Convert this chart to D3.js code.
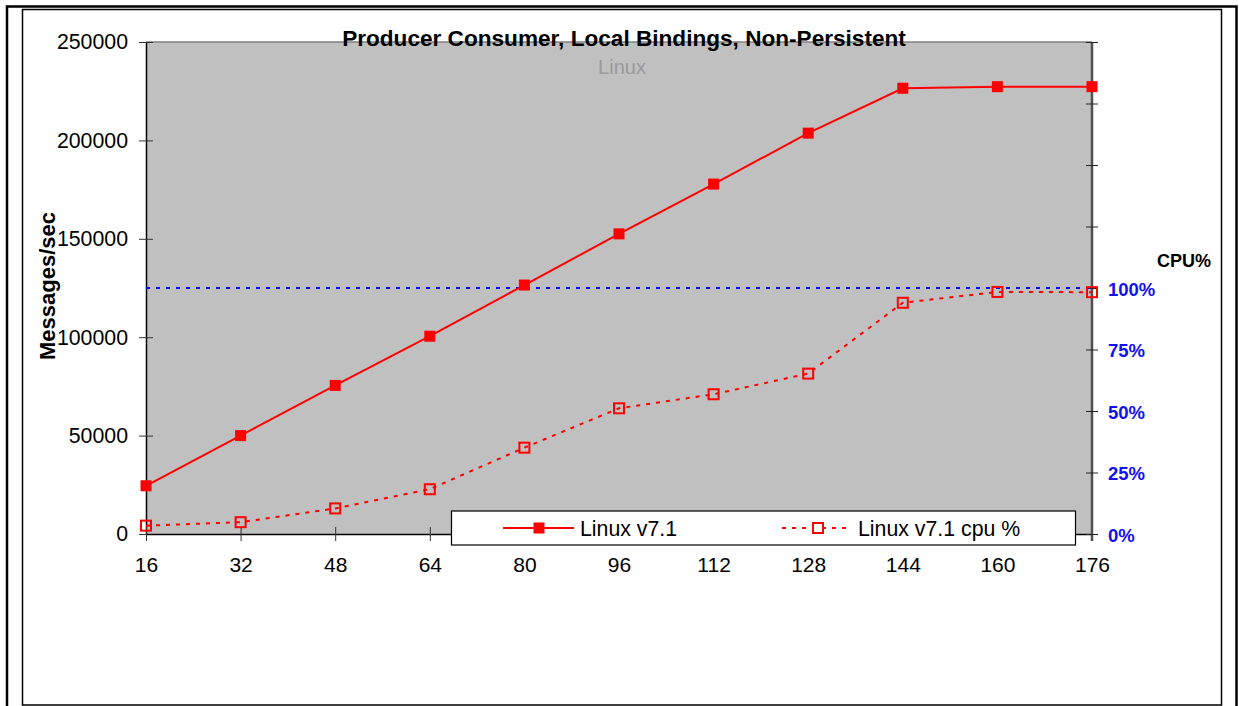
<!DOCTYPE html>
<html>
<head>
<meta charset="utf-8">
<script src="https://cdn.jsdelivr.net/npm/d3@7"></script>
<style>
  html, body { margin: 0; padding: 0; background: #fff; }
  svg { display: block; }
  text { font-family: "Liberation Sans", Arial, Helvetica, sans-serif; }
</style>
</head>
<body>
<svg id="chart" width="1239" height="706"></svg>
<script>
// Thread counts on the x axis
const threads = [16, 32, 48, 64, 80, 96, 112, 128, 144, 160, 176];
// Throughput (messages/sec) for Linux v7.1
const msgRate = [24500, 50000, 75500, 100500, 126500, 152500, 177800, 203700, 226500, 227300, 227300];
// CPU utilisation (%) for Linux v7.1
const cpuPct = [3.4, 4.8, 10.4, 18.2, 35.1, 51.1, 56.8, 65.2, 94.0, 98.4, 98.3];
// Axis tick values
const rateTicks = [0, 50000, 100000, 150000, 200000, 250000];
const cpuTicks = [0, 25, 50, 75, 100, 125, 150, 175, 200];
const cpuLabelMax = 100;

const titleText = "Producer Consumer, Local Bindings, Non-Persistent";
const subtitleText = "Linux";
const yLabelText = "Messages/sec";
const y2LabelText = "CPU%";
const seriesNames = ["Linux v7.1", "Linux v7.1 cpu %"];

const svg = d3.select("#chart");

// Page frames
svg.append("rect").attr("x", 7).attr("y", 6.5).attr("width", 1229.5).attr("height", 730)
  .attr("fill", "none").attr("stroke", "#000").attr("stroke-width", 2.5);
svg.append("rect").attr("x", 22.5).attr("y", 9.5).attr("width", 1199).attr("height", 695.5)
  .attr("fill", "none").attr("stroke", "#000").attr("stroke-width", 1.5);

const plot = { left: 146, right: 1092, top: 42, bottom: 534 };

const x = d3.scaleLinear().domain([16, 176]).range([plot.left, plot.right]);
const y = d3.scaleLinear().domain([0, 250000]).range([plot.bottom, plot.top]);
const y2 = d3.scaleLinear().domain([0, 200]).range([plot.bottom, plot.top]);

// Plot background
svg.append("rect").attr("x", plot.left).attr("y", plot.top)
  .attr("width", plot.right - plot.left).attr("height", plot.bottom - plot.top)
  .attr("fill", "#c0c0c0");
svg.append("line").attr("x1", plot.left).attr("x2", plot.right)
  .attr("y1", plot.top).attr("y2", plot.top)
  .attr("stroke", "#808080").attr("stroke-width", 1.5);

// Left axis
const yAxis = d3.axisLeft(y).tickValues(rateTicks).tickSizeInner(7).tickSizeOuter(0)
  .tickPadding(11).tickFormat(d3.format("d"));
const gy = svg.append("g").attr("transform", `translate(${plot.left},0)`).call(yAxis);
gy.select(".domain").attr("stroke", "#000").attr("stroke-width", 1.5);
gy.selectAll(".tick line").attr("x2", 7).attr("x1", -7).attr("stroke", "#333");
gy.selectAll(".tick text").attr("font-size", 21.3).attr("fill", "#000")
  .attr("font-family", "Liberation Sans, Arial, sans-serif");

// Bottom axis
const xAxis = d3.axisBottom(x).tickValues(threads).tickSizeInner(7).tickSizeOuter(0)
  .tickPadding(16).tickFormat(d3.format("d"));
const gx = svg.append("g").attr("transform", `translate(0,${plot.bottom})`).call(xAxis);
gx.select(".domain").attr("stroke", "#000").attr("stroke-width", 1.5);
gx.selectAll(".tick line").attr("y1", -7).attr("y2", 7).attr("stroke", "#333");
gx.selectAll(".tick text").attr("font-size", 21).attr("fill", "#000")
  .attr("font-family", "Liberation Sans, Arial, sans-serif");

// Right axis (CPU %)
const y2Axis = d3.axisRight(y2).tickValues(cpuTicks).tickSizeInner(6).tickSizeOuter(0)
  .tickPadding(10).tickFormat(d => d <= cpuLabelMax ? d + "%" : "");
const gy2 = svg.append("g").attr("transform", `translate(${plot.right},0)`).call(y2Axis);
gy2.select(".domain").attr("stroke", "#505050").attr("stroke-width", 2.5)
  .attr("d", `M0,${plot.top}V${plot.bottom + 7}`);
gy2.selectAll(".tick line").attr("x1", -6).attr("x2", 6).attr("stroke", "#222");
gy2.selectAll(".tick text").attr("font-size", 18.5).attr("font-weight", "bold")
  .attr("fill", "#1010f0").attr("dy", "0.4em")
  .attr("font-family", "Liberation Sans, Arial, sans-serif");

// 100% reference line
svg.append("line").attr("x1", plot.left).attr("x2", plot.right)
  .attr("y1", y2(100)).attr("y2", y2(100))
  .attr("stroke", "#0000ff").attr("stroke-width", 2).attr("stroke-dasharray", "4,6");

// Throughput series
const rateLine = d3.line().x((d, i) => x(threads[i])).y(d => y(d));
svg.append("path").datum(msgRate).attr("d", rateLine)
  .attr("fill", "none").attr("stroke", "#ff0000").attr("stroke-width", 2);
svg.selectAll(".rate-marker").data(msgRate).join("rect")
  .attr("class", "rate-marker")
  .attr("x", (d, i) => x(threads[i]) - 5.5).attr("y", d => y(d) - 5.5)
  .attr("width", 11).attr("height", 11).attr("fill", "#ff0000");

// CPU series
const cpuLine = d3.line().x((d, i) => x(threads[i])).y(d => y2(d));
svg.append("path").datum(cpuPct).attr("d", cpuLine)
  .attr("fill", "none").attr("stroke", "#ff0000").attr("stroke-width", 2)
  .attr("stroke-dasharray", "4,6");
svg.selectAll(".cpu-marker").data(cpuPct).join("rect")
  .attr("class", "cpu-marker")
  .attr("x", (d, i) => x(threads[i]) - 5).attr("y", d => y2(d) - 5)
  .attr("width", 10).attr("height", 10)
  .attr("fill", "none").attr("stroke", "#ff0000").attr("stroke-width", 2);

// Titles
svg.append("text").attr("x", 624).attr("y", 46).attr("text-anchor", "middle")
  .attr("font-size", 22.6).attr("font-weight", "bold").attr("fill", "#000")
  .text(titleText);
svg.append("text").attr("x", 622).attr("y", 74).attr("text-anchor", "middle")
  .attr("font-size", 20).attr("fill", "#9a9a9a").text(subtitleText);

// Axis titles
svg.append("text").attr("transform", "translate(55,286) rotate(-90)")
  .attr("text-anchor", "middle").attr("font-size", 22).attr("font-weight", "bold")
  .attr("fill", "#000").text(yLabelText);
svg.append("text").attr("x", 1157).attr("y", 267)
  .attr("font-size", 18).attr("font-weight", "bold").attr("fill", "#000").text(y2LabelText);

// Legend
const legend = svg.append("g");
legend.append("rect").attr("x", 451.5).attr("y", 511).attr("width", 624).attr("height", 34)
  .attr("fill", "#fff").attr("stroke", "#000").attr("stroke-width", 1.2);
const ly = 528;
legend.append("line").attr("x1", 503).attr("x2", 574).attr("y1", ly).attr("y2", ly)
  .attr("stroke", "#ff0000").attr("stroke-width", 2);
legend.append("rect").attr("x", 533.5).attr("y", ly - 5.5).attr("width", 11).attr("height", 11)
  .attr("fill", "#ff0000");
legend.append("text").attr("x", 580).attr("y", ly + 7.5).attr("font-size", 21.3)
  .attr("fill", "#000").text(seriesNames[0]);
legend.append("line").attr("x1", 782).attr("x2", 850).attr("y1", ly).attr("y2", ly)
  .attr("stroke", "#ff0000").attr("stroke-width", 2).attr("stroke-dasharray", "4,6");
legend.append("rect").attr("x", 813).attr("y", ly - 5).attr("width", 10).attr("height", 10)
  .attr("fill", "#fff").attr("stroke", "#ff0000").attr("stroke-width", 2);
legend.append("text").attr("x", 858).attr("y", ly + 7.5).attr("font-size", 21.3)
  .attr("fill", "#000").text(seriesNames[1]);
</script>
</body>
</html>
